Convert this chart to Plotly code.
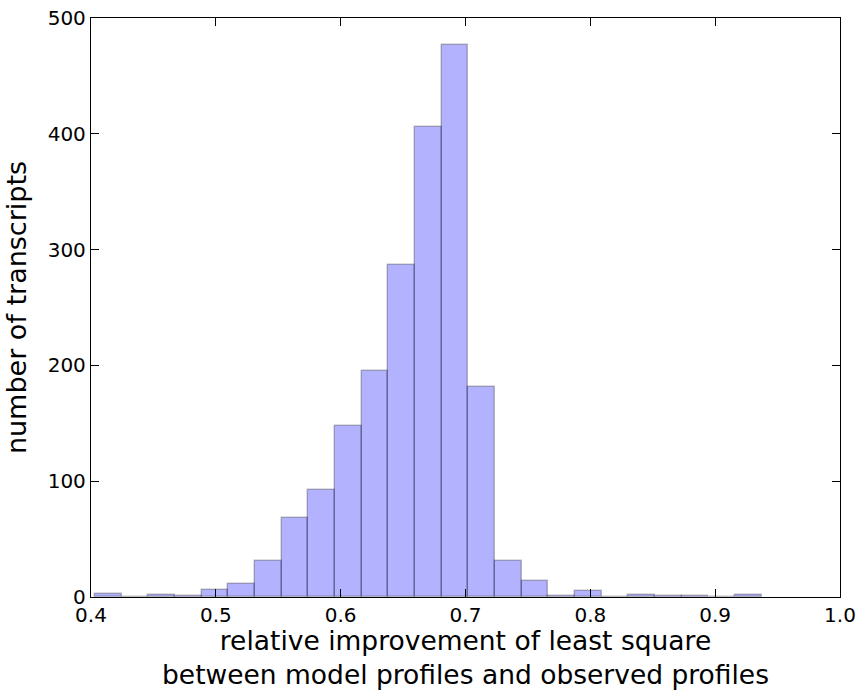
import plotly.graph_objects as go

# Histogram data (25 equal-width bins)
bin_start = 0.4032
bin_width = 0.02136
counts = [3, 0, 2, 1, 6, 11, 31, 68, 92, 148, 195, 287, 406, 477, 181,
          31, 14, 1, 5, 0, 2, 1, 1, 0, 2]
x_ticks = [0.4, 0.5, 0.6, 0.7, 0.8, 0.9, 1.0]
y_ticks = [0, 100, 200, 300, 400, 500]

centers = [bin_start + bin_width * (i + 0.5) for i in range(len(counts))]

fig = go.Figure()
fig.add_trace(go.Bar(
    x=centers, y=counts, width=[bin_width] * len(counts),
    marker=dict(color="rgba(0,0,255,0.3)",
                line=dict(color="rgba(0,0,0,0.25)", width=1.5)),
    showlegend=False,
))

font = "DejaVu Sans"
axis_common = dict(
    showline=True, linecolor="black", linewidth=1.3, mirror="allticks",
    ticks="inside", ticklen=8, tickwidth=1, tickcolor="black",
    showgrid=False, zeroline=False, automargin=False,
    tickfont=dict(family=font, size=20, color="black"),
)

fig.update_layout(
    width=859, height=690,
    margin=dict(l=91, r=19, t=18, b=93, autoexpand=False),
    paper_bgcolor="white", plot_bgcolor="white",
    bargap=0,
    xaxis=dict(range=[0.4, 1.0], tickvals=x_ticks,
               ticktext=[f"{v:.1f}" for v in x_ticks],
               title=dict(text="relative improvement of least square<br>between model profiles and observed profiles",
                          font=dict(family=font, size=26.5, color="black"), standoff=10),
               **axis_common),
    yaxis=dict(range=[0, 500], tickvals=y_ticks,
               title=dict(text="number of transcripts",
                          font=dict(family=font, size=27, color="black"), standoff=13),
               **axis_common),
)

fig.write_html("out.html")
